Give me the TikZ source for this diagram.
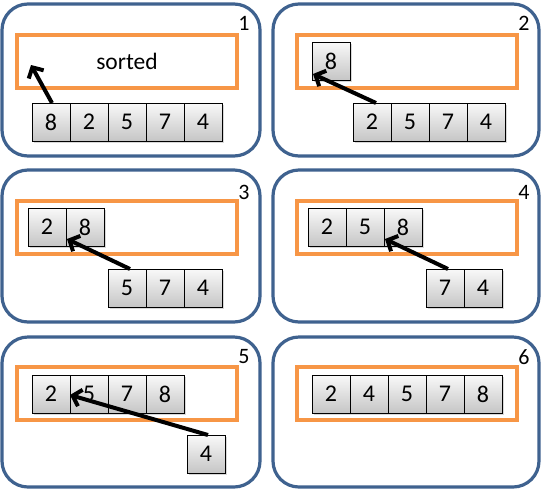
\documentclass[tikz,border=0pt]{standalone}
\usepackage{fontspec}
\setmainfont{Carlito}
\usetikzlibrary{arrows.meta,shadows,positioning}
\definecolor{panelblue}{HTML}{3F628F}
\definecolor{sortorange}{HTML}{F79646}
\tikzset{
  panel/.style={draw=panelblue, line width=3.2pt, rounded corners=26pt},
  sortbox/.style={draw=sortorange, line width=3.2pt, minimum width=220pt, minimum height=53pt, inner sep=0pt, font=\fontsize{23.5}{23.5}\selectfont},
  cell/.style={draw=black, line width=0.9pt, top color=gray!5, bottom color=gray!45, minimum width=38pt, minimum height=38pt, inner sep=0pt, outer sep=0pt, anchor=north west, font=\fontsize{24}{24}\selectfont, drop shadow={shadow xshift=1.5pt, shadow yshift=-1.5pt, opacity=0.3}},
  lbl/.style={font=\fontsize{22}{22}\selectfont, inner sep=0pt},
  move/.style={line width=4pt, -{Straight Barb[length=8pt,width=17pt]}},
}
\begin{document}
\begin{tikzpicture}[x=1pt,y=-1pt]
\useasboundingbox[fill=white] (0,0) rectangle (546,491);

% ---------- Panel 1 ----------
\draw[panel] (2,4) rectangle (260,156);
\node[sortbox] (p1s) at (127,61.5) {sorted};
\node[cell] (p1a) at (32,103) {8};
\node[cell,right=0pt of p1a] (p1b) {2};
\node[cell,right=0pt of p1b] (p1c) {5};
\node[cell,right=0pt of p1c] (p1d) {7};
\node[cell,right=0pt of p1d] (p1e) {4};
\node[lbl] (p1n) at (244,23) {1};
\coordinate (p1t) at (31,65);
\draw[move] ([xshift=1pt]p1a.north) -- (p1t);

% ---------- Panel 2 ----------
\draw[panel] (273,4) rectangle (539,156);
\node[sortbox] (p2s) at (407,61.5) {};
\node[cell] (p2x) at (312,42) {8};
\node[cell] (p2a) at (353,103) {2};
\node[cell,right=0pt of p2a] (p2b) {5};
\node[cell,right=0pt of p2b] (p2c) {7};
\node[cell,right=0pt of p2c] (p2d) {4};
\node[lbl] (p2n) at (524,23) {2};
\coordinate (p2t) at (313,74);
\draw[move] ([xshift=4pt]p2a.north) -- (p2t);

% ---------- Panel 3 ----------
\draw[panel] (2,170) rectangle (260,322);
\node[sortbox] (p3s) at (127,227.5) {};
\node[cell] (p3x) at (28,208) {2};
\node[cell,right=0pt of p3x] (p3y) {8};
\node[cell] (p3a) at (108,269) {5};
\node[cell,right=0pt of p3a] (p3b) {7};
\node[cell,right=0pt of p3b] (p3c) {4};
\node[lbl] (p3n) at (244,192) {3};
\coordinate (p3t) at (67,239);
\draw[move] ([xshift=3pt]p3a.north) -- (p3t);

% ---------- Panel 4 ----------
\draw[panel] (273,170) rectangle (539,322);
\node[sortbox] (p4s) at (407,227.5) {};
\node[cell] (p4x) at (308,208) {2};
\node[cell,right=0pt of p4x] (p4y) {5};
\node[cell,right=0pt of p4y] (p4z) {8};
\node[cell] (p4a) at (426,269) {7};
\node[cell,right=0pt of p4a] (p4b) {4};
\node[lbl] (p4n) at (524,192) {4};
\coordinate (p4t) at (385,239);
\draw[move] ([xshift=3pt]p4a.north) -- (p4t);

% ---------- Panel 5 ----------
\draw[panel] (2,337) rectangle (260,487);
\node[sortbox] (p5s) at (127,393.5) {};
\node[cell] (p5w) at (32,375) {2};
\node[cell,right=0pt of p5w] (p5x) {5};
\node[cell,right=0pt of p5x] (p5y) {7};
\node[cell,right=0pt of p5y] (p5z) {8};
\node[cell] (p5a) at (187,435) {4};
\node[lbl] (p5n) at (244,357) {5};
\coordinate (p5t) at (70,395);
\draw[move] ([xshift=2pt]p5a.north) -- (p5t);

% ---------- Panel 6 ----------
\draw[panel] (273,337) rectangle (539,487);
\node[sortbox] (p6s) at (407,393.5) {};
\node[cell] (p6a) at (312,375) {2};
\node[cell,right=0pt of p6a] (p6b) {4};
\node[cell,right=0pt of p6b] (p6c) {5};
\node[cell,right=0pt of p6c] (p6d) {7};
\node[cell,right=0pt of p6d] (p6e) {8};
\node[lbl] (p6n) at (524,357) {6};
\end{tikzpicture}
\end{document}
